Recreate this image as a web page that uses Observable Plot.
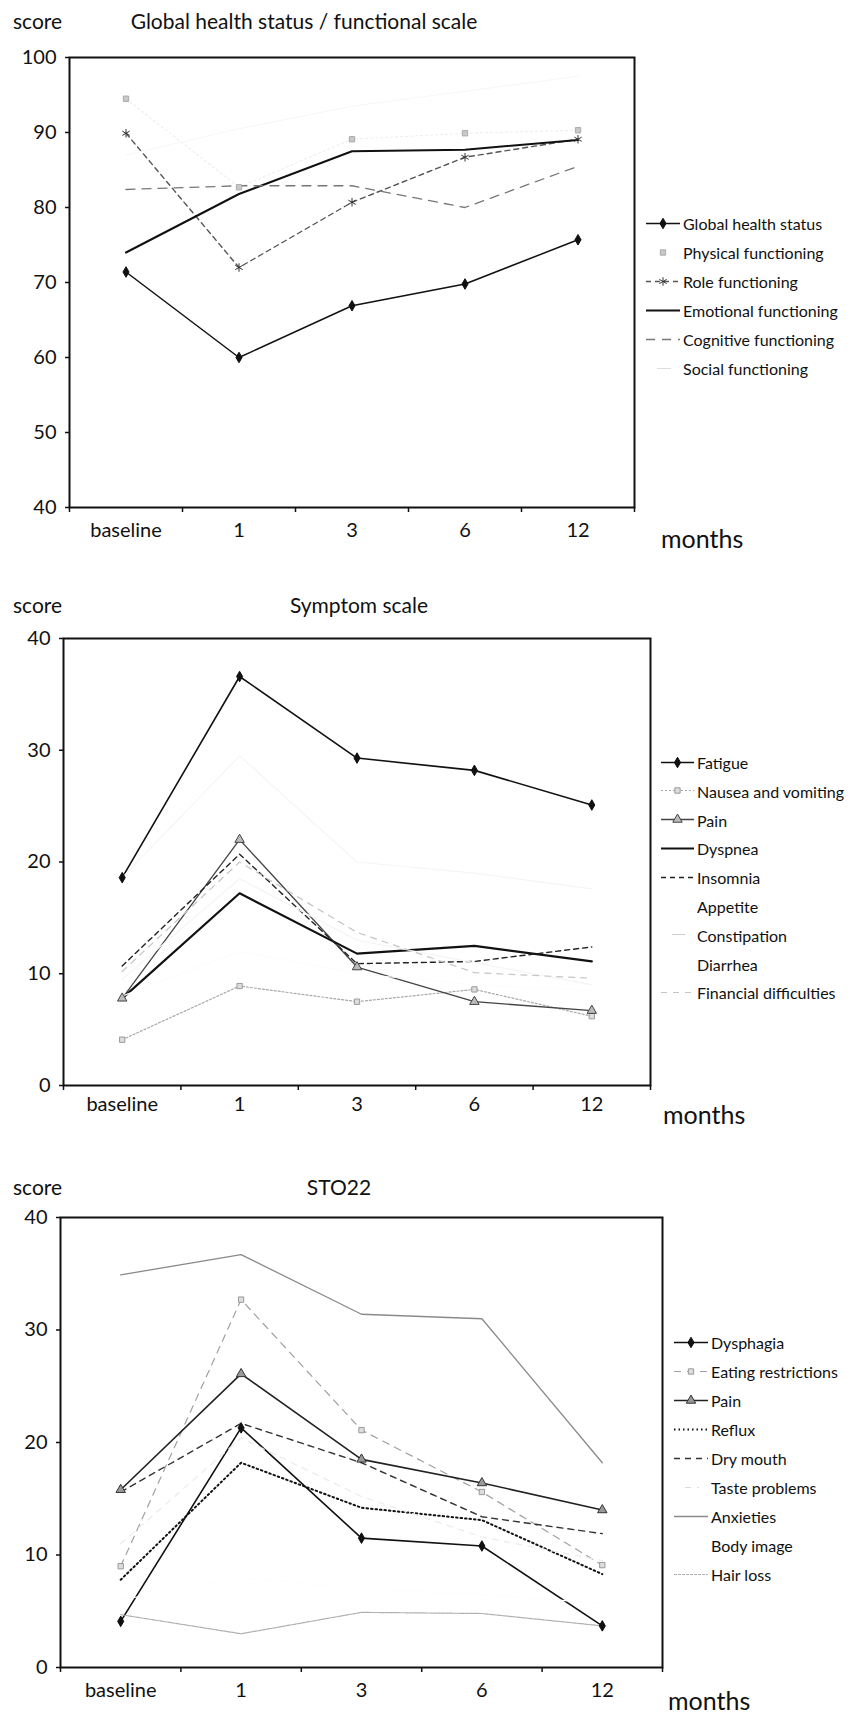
<!DOCTYPE html>
<html>
<head>
<meta charset="utf-8">
<script src="https://cdn.jsdelivr.net/npm/d3@7"></script>
<script src="https://cdn.jsdelivr.net/npm/@observablehq/plot@0.6"></script>
<style>
  html, body { margin: 0; padding: 0; background: #fff; }
  #page { position: relative; width: 859px; height: 1714px; font-family: Lato, "Open Sans", sans-serif; color: #111; overflow: hidden; }
  .chart { position: absolute; left: 0; }
  .lbl { position: absolute; line-height: 1; transform: translateY(-50%); white-space: nowrap; }
  .big { font-size: 21px; }
  .months { font-size: 25px; }
  .legend { position: absolute; font-size: 16px; }
  .legend .row { position: absolute; left: 0; display: flex; align-items: center; white-space: nowrap; transform: translateY(-50%); }
  .legend svg { display: block; }
</style>
</head>
<body>
<div id="page"></div>
<script>
// ---------- data ----------
const months = ["baseline", "1", "3", "6", "12"];

// Chart 1: Global health status / functional scale
const globalHealthStatus   = [71.4, 60.0, 66.9, 69.8, 75.7];
const physicalFunctioning  = [94.5, 82.7, 89.1, 89.9, 90.3];
const roleFunctioning      = [89.9, 72.0, 80.7, 86.7, 89.1];
const emotionalFunctioning = [74.0, 81.8, 87.5, 87.7, 89.0];
const cognitiveFunctioning = [82.4, 82.9, 82.9, 80.0, 85.5];
const socialFunctioning    = [87.0, 90.5, 93.5, 95.5, 97.5];
const yTicks1 = [40, 50, 60, 70, 80, 90, 100];

// Chart 2: Symptom scale
const fatigue              = [18.6, 36.6, 29.3, 28.2, 25.1];
const nauseaVomiting       = [4.1, 8.9, 7.5, 8.6, 6.2];
const painSymptom          = [7.8, 22.0, 10.6, 7.5, 6.7];
const dyspnea              = [7.8, 17.2, 11.8, 12.5, 11.1];
const insomnia             = [10.7, 20.7, 10.9, 11.1, 12.4];
const appetite             = [18.6, 29.5, 20.0, 19.0, 17.6];
const constipation         = [9.5, 18.5, 13.0, 11.0, 9.0];
const diarrhea             = [8.0, 12.0, 10.0, 9.0, 8.5];
const financialDifficulties= [10.2, 20.0, 13.7, 10.1, 9.6];
const yTicks2 = [0, 10, 20, 30, 40];

// Chart 3: STO22
const dysphagia            = [4.1, 21.3, 11.5, 10.8, 3.7];
const eatingRestrictions   = [9.0, 32.7, 21.1, 15.6, 9.1];
const painSTO              = [15.8, 26.1, 18.5, 16.4, 14.0];
const reflux               = [7.8, 18.2, 14.2, 13.1, 8.3];
const dryMouth             = [15.6, 21.7, 18.2, 13.4, 11.9];
const tasteProblems        = [11.0, 20.4, 15.2, 11.6, 9.5];
const anxieties            = [34.9, 36.7, 31.4, 31.0, 18.2];
const bodyImage            = [6.0, 8.0, 7.0, 6.5, 5.7];
const hairLoss             = [4.7, 3.0, 4.9, 4.8, 3.7];
const yTicks3 = [0, 10, 20, 30, 40];

// ---------- styles ----------
const charts = [
  {
    title: "Global health status / functional scale", titleX: 304,
    top: 0, svgH: 550, mTop: 57, mLeft: 69, right: 634, mBottom: 43,
    domain: [40, 100], yTicks: yTicks1, xPad: 15,
    scoreY: 20, titleY: 20, monthsX: 661, monthsY: 538,
    legendX: 645, legendY: 223, legendStep: 29, textX: 38,
    series: [
      {name: "Global health status", values: globalHealthStatus, color: "#111", width: 1.5, symbol: "diamond", r: 3.2, mfill: "#111"},
      {name: "Physical functioning", values: physicalFunctioning, color: "#efefef", width: 1.2, dash: "2,3", symbol: "square", r: 3, mfill: "#c8c8c8", mstroke: "#aaa", legendLine: false},
      {name: "Role functioning", values: roleFunctioning, color: "#555", width: 1.4, dash: "5,4", symbol: "asterisk", r: 4, mstroke: "#333"},
      {name: "Emotional functioning", values: emotionalFunctioning, color: "#111", width: 2},
      {name: "Cognitive functioning", values: cognitiveFunctioning, color: "#777", width: 1.3, dash: "9,7"},
      {name: "Social functioning", values: socialFunctioning, color: "#f7f7f7", width: 1.2, legendLine: "short", legendColor: "#ddd"}
    ]
  },
  {
    title: "Symptom scale", titleX: 359,
    top: 590, svgH: 535, mTop: 48, mLeft: 63, right: 650, mBottom: 40,
    domain: [0, 40], yTicks: yTicks2, xPad: 11,
    scoreY: 604, titleY: 604, monthsX: 663, monthsY: 1114,
    legendX: 660, legendY: 762, legendStep: 28.8, textX: 37,
    series: [
      {name: "Fatigue", values: fatigue, color: "#111", width: 1.6, symbol: "diamond", r: 3.2, mfill: "#111"},
      {name: "Nausea and vomiting", values: nauseaVomiting, color: "#a8a8a8", width: 1.2, dash: "2,2", symbol: "square", r: 3, mfill: "#ddd", mstroke: "#999"},
      {name: "Pain", values: painSymptom, color: "#444", width: 1.3, symbol: "triangle", r: 3.5, mfill: "#bbb", mstroke: "#444"},
      {name: "Dyspnea", values: dyspnea, color: "#111", width: 2.2},
      {name: "Insomnia", values: insomnia, color: "#222", width: 1.4, dash: "5,4"},
      {name: "Appetite", values: appetite, color: "#f5f5f5", width: 1.2, legendLine: false},
      {name: "Constipation", values: constipation, color: "#f4f4f4", width: 1.2, legendLine: "short", legendColor: "#ccc"},
      {name: "Diarrhea", values: diarrhea, color: "#fcfcfc", width: 1.2, legendLine: false},
      {name: "Financial difficulties", values: financialDifficulties, color: "#c4c4c4", width: 1.2, dash: "6,6"}
    ]
  },
  {
    title: "STO22", titleX: 339,
    top: 1170, svgH: 541, mTop: 47, mLeft: 60, right: 662, mBottom: 44,
    domain: [0, 40], yTicks: yTicks3, xPad: 15,
    scoreY: 1186, titleY: 1186, monthsX: 668, monthsY: 1700,
    legendX: 673, legendY: 1342, legendStep: 29, textX: 38,
    series: [
      {name: "Dysphagia", values: dysphagia, color: "#111", width: 1.6, symbol: "diamond", r: 3.2, mfill: "#111"},
      {name: "Eating restrictions", values: eatingRestrictions, color: "#a0a0a0", width: 1.2, dash: "7,6", symbol: "square", r: 3, mfill: "#ddd", mstroke: "#999"},
      {name: "Pain", values: painSTO, color: "#222", width: 1.6, symbol: "triangle", r: 3.5, mfill: "#999", mstroke: "#333"},
      {name: "Reflux", values: reflux, color: "#111", width: 2, dash: "1.5,3"},
      {name: "Dry mouth", values: dryMouth, color: "#333", width: 1.4, dash: "6,5"},
      {name: "Taste problems", values: tasteProblems, color: "#ebebeb", width: 1.2, dash: "6,6", legendLine: "short", legendColor: "#ddd"},
      {name: "Anxieties", values: anxieties, color: "#8a8a8a", width: 1.3},
      {name: "Body image", values: bodyImage, color: "#fdfdfd", width: 1.2, legendLine: false},
      {name: "Hair loss", values: hairLoss, color: "#b0b0b0", width: 1.2, dash: "3,1"}
    ]
  }
];

const page = document.getElementById("page");

function addLabel(text, x, y, cls, center) {
  const d = document.createElement("div");
  d.className = "lbl " + cls;
  d.textContent = text;
  d.style.left = x + "px";
  d.style.top = y + "px";
  if (center) d.style.transform = "translate(-50%,-50%)";
  page.appendChild(d);
}

const symbolTypes = {diamond: d3.symbolDiamond, square: d3.symbolSquare, triangle: d3.symbolTriangle, asterisk: d3.symbolAsterisk};

for (const c of charts) {
  const width = c.right + 12;
  const marks = [];
  for (const s of c.series) {
    const data = s.values.map((v, i) => ({i, v}));
    marks.push(Plot.line(data, {x: "i", y: "v", stroke: s.color, strokeWidth: s.width, strokeDasharray: s.dash}));
  }
  for (const s of c.series) {
    if (!s.symbol) continue;
    const data = s.values.map((v, i) => ({i, v}));
    marks.push(Plot.dot(data, {x: "i", y: "v", symbol: s.symbol, r: s.r, fill: s.mfill || "none", stroke: s.mstroke || s.color, strokeWidth: 1}));
  }
  const bounds = d3.range(months.length + 1).map(k => k - 0.5);
  const svg = Plot.plot({
    width, height: c.svgH,
    marginTop: c.mTop, marginLeft: c.mLeft, marginRight: width - c.right, marginBottom: c.mBottom,
    style: {fontFamily: "Lato, sans-serif", fontSize: "20px", color: "#111", background: "transparent"},
    x: {type: "linear", domain: [-0.5, months.length - 0.5], axis: null},
    y: {domain: c.domain, axis: null},
    marks: [
      ...marks,
      Plot.axisX({ticks: bounds, tickSize: 5, tickFormat: () => "", label: null, strokeWidth: 1.5}),
      Plot.axisX({ticks: d3.range(months.length), tickSize: 0, tickPadding: c.xPad, tickFormat: i => months[i], label: null, fontSize: 20}),
      Plot.axisY({ticks: c.yTicks, tickSize: 4, tickPadding: 9, label: null, fontSize: 20, strokeWidth: 1.5}),
      Plot.frame({stroke: "#111", strokeWidth: 2})
    ]
  });
  svg.classList.add("chart");
  svg.style.top = c.top + "px";
  page.appendChild(svg);

  addLabel("score", 13, c.scoreY, "big", false);
  addLabel(c.title, c.titleX, c.titleY, "big", true);
  addLabel("months", c.monthsX, c.monthsY, "months", false);

  const lg = document.createElement("div");
  lg.className = "legend";
  lg.style.left = c.legendX + "px";
  lg.style.top = c.legendY + "px";
  c.series.forEach((s, k) => {
    const row = document.createElement("div");
    row.className = "row";
    row.style.top = (k * c.legendStep) + "px";
    const sw = d3.create("svg").attr("width", c.textX).attr("height", 14);
    if (s.legendLine !== false) {
      const x0 = s.legendLine === "short" ? 12 : 1, x1 = s.legendLine === "short" ? c.textX - 12 : c.textX - 3;
      sw.append("line").attr("x1", x0).attr("x2", x1).attr("y1", 7).attr("y2", 7)
        .attr("stroke", s.legendColor || s.color).attr("stroke-width", s.width).attr("stroke-dasharray", s.dash || null);
    }
    if (s.symbol) {
      const area = Math.PI * s.r * s.r;
      sw.append("path").attr("d", d3.symbol(symbolTypes[s.symbol], area)())
        .attr("transform", `translate(${(c.textX - 2) / 2},7)`)
        .attr("fill", s.mfill || "none").attr("stroke", s.mstroke || s.color).attr("stroke-width", 1);
    }
    row.appendChild(sw.node());
    const t = document.createElement("span");
    t.textContent = s.name;
    row.appendChild(t);
    lg.appendChild(row);
  });
  page.appendChild(lg);
}
</script>
</body>
</html>
